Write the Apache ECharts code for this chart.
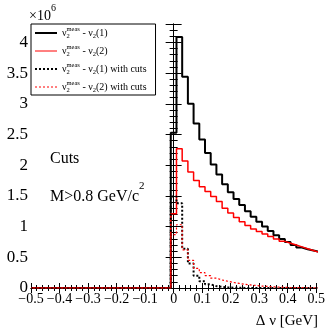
<!DOCTYPE html>
<html>
<head>
<meta charset="utf-8">
<script src="https://cdn.jsdelivr.net/npm/echarts@6/dist/echarts.min.js"></script>
<style>
  html, body { margin: 0; padding: 0; background: #fff; }
  #chart { width: 328px; height: 332px; }
</style>
</head>
<body>
<div id="chart"></div>
<script>
// Bin edges in Δν [GeV]: 0.02 GeV wide bins centred on multiples of 0.02
const binEdges = [-0.01, 0.01, 0.03, 0.05, 0.07, 0.09, 0.11, 0.13, 0.15, 0.17, 0.19,
  0.21, 0.23, 0.25, 0.27, 0.29, 0.31, 0.33, 0.35, 0.37, 0.39, 0.41, 0.43, 0.45,
  0.47, 0.49, 0.51];

// Entries per bin, in units of 10^6
const nuMeasMinusNu1 = [2.53, 4.09, 3.44, 3.00, 2.68, 2.42, 2.20, 2.01, 1.85, 1.69,
  1.56, 1.45, 1.35, 1.25, 1.16, 1.08, 1.00, 0.93, 0.86, 0.80, 0.75, 0.70, 0.66,
  0.63, 0.61, 0.59];
const nuMeasMinusNu2 = [1.21, 2.27, 2.07, 1.89, 1.75, 1.65, 1.57, 1.49, 1.41, 1.30,
  1.22, 1.15, 1.08, 1.02, 0.96, 0.92, 0.88, 0.84, 0.80, 0.76, 0.73, 0.70, 0.67,
  0.64, 0.61, 0.58];
const nuMeasMinusNu1Cuts = [1.49, 1.38, 0.64, 0.40, 0.20, 0.11, 0.06, 0.03, 0.02,
  0.01, 0.006, 0.003, 0.002, 0.001, 0, 0, 0, 0, 0, 0, 0, 0, 0, 0, 0, 0];
const nuMeasMinusNu2Cuts = [0.87, 1.03, 0.62, 0.45, 0.32, 0.25, 0.20, 0.16, 0.13,
  0.11, 0.09, 0.075, 0.06, 0.05, 0.04, 0.032, 0.025, 0.02, 0.015, 0.01, 0.008,
  0.006, 0.005, 0.004, 0.003, 0.002];

const legendLabels = {
  nu1: '{n|ν}{sb|2}{sp|meas}{n| - ν}{sb2|2}{n|(1)}',
  nu2: '{n|ν}{sb|2}{sp|meas}{n| - ν}{sb2|2}{n|(2)}',
  nu1cuts: '{n|ν}{sb|2}{sp|meas}{n| - ν}{sb2|2}{n|(1) with cuts}',
  nu2cuts: '{n|ν}{sb|2}{sp|meas}{n| - ν}{sb2|2}{n|(2) with cuts}'
};

const X_MIN = -0.5, X_MAX = 0.5;
const SERIF = 'Liberation Serif';

// Histogram outline: zero up to the first edge, then one step per bin
function stepPoints(values) {
  const pts = [[X_MIN, 0]];
  values.forEach((v, i) => pts.push([binEdges[i], v]));
  pts.push([binEdges[values.length], values[values.length - 1]]);
  return pts;
}

function mkSeries(name, values, color, width, type) {
  return {
    name: name,
    type: 'line',
    step: 'end',
    symbol: 'none',
    showSymbol: false,
    animation: false,
    data: stepPoints(values),
    lineStyle: { color: color, width: width, type: type },
    itemStyle: { color: color }
  };
}

const chart = echarts.init(document.getElementById('chart'), null, { renderer: 'canvas' });

const axisCommon = {
  axisLine: { show: true, lineStyle: { color: '#000', width: 1 } },
  splitLine: { show: false }
};

const option = {
  backgroundColor: '#fff',
  animation: false,
  grid: { left: 31, right: 11, top: 24, bottom: 44 },
  xAxis: [
    Object.assign({
      type: 'value', min: X_MIN, max: X_MAX, interval: 0.1, position: 'bottom',
      axisTick: { show: true, inside: true, length: 5, lineStyle: { color: '#000' } },
      minorTick: { show: true, splitNumber: 5, length: 3, lineStyle: { color: '#000' } },
      axisLabel: {
        color: '#000', fontFamily: SERIF, fontSize: 14, margin: 4,
        formatter: v => {
          const r = Math.round(v * 10) / 10;
          return (r < 0 ? '\u2212' : '') + String(Math.abs(r));
        }
      }
    }, axisCommon),
    Object.assign({
      type: 'value', min: X_MIN, max: X_MAX, interval: 0.1, position: 'top',
      axisTick: { show: true, inside: true, length: 5, lineStyle: { color: '#000' } },
      minorTick: { show: true, splitNumber: 5, length: 3, lineStyle: { color: '#000' } },
      axisLabel: { show: false }
    }, axisCommon)
  ],
  yAxis: [
    Object.assign({
      type: 'value', min: 0, max: 4.3, interval: 0.5, position: 'left',
      axisTick: { show: true, inside: true, length: 8, lineStyle: { color: '#000' } },
      minorTick: { show: true, splitNumber: 5, length: 4, lineStyle: { color: '#000' } },
      axisLabel: {
        color: '#000', fontFamily: SERIF, fontSize: 17, margin: 3,
        formatter: v => (Math.abs(v * 2 - Math.round(v * 2)) < 1e-6 ? String(Math.round(v * 2) / 2) : '')
      }
    }, axisCommon),
    Object.assign({
      type: 'value', min: 0, max: 4.3, interval: 0.5, position: 'right',
      axisTick: { show: true, inside: true, length: 8, lineStyle: { color: '#000' } },
      minorTick: { show: true, splitNumber: 5, length: 4, lineStyle: { color: '#000' } },
      axisLabel: { show: false }
    }, axisCommon)
  ],
  legend: {
    orient: 'vertical',
    left: 31, top: 24,
    padding: [2, 9, 1, 3],
    itemGap: 4,
    itemWidth: 22,
    itemHeight: 10,
    borderColor: '#000',
    borderWidth: 1,
    borderRadius: 0,
    backgroundColor: '#fff',
    itemStyle: { opacity: 0 },
    data: [
      { name: 'nu1', lineStyle: { width: 2 }, itemStyle: { opacity: 0 } },
      { name: 'nu2', lineStyle: { width: 1 }, itemStyle: { opacity: 0 } },
      { name: 'nu1cuts', lineStyle: { width: 2 }, itemStyle: { opacity: 0 } },
      { name: 'nu2cuts', lineStyle: { width: 1 }, itemStyle: { opacity: 0 } }
    ],
    formatter: name => legendLabels[name],
    textStyle: {
      color: '#000', fontFamily: SERIF, fontSize: 10,
      rich: {
        n: { fontFamily: SERIF, fontSize: 10, lineHeight: 14, color: '#000' },
        sb: { fontFamily: SERIF, fontSize: 6.5, lineHeight: 7, width: 0, verticalAlign: 'bottom', color: '#000' },
        sb2: { fontFamily: SERIF, fontSize: 6.5, lineHeight: 7, verticalAlign: 'bottom', color: '#000' },
        sp: { fontFamily: SERIF, fontSize: 6.5, lineHeight: 7, verticalAlign: 'top', color: '#000' }
      }
    },
    selectedMode: false
  },
  graphic: [
    {
      type: 'text', left: 29, top: 3,
      style: {
        text: '{a|×10}{b|6}',
        rich: {
          a: { fontFamily: SERIF, fontSize: 14, lineHeight: 20, verticalAlign: 'bottom', fill: '#000' },
          b: { fontFamily: SERIF, fontSize: 10, lineHeight: 12, verticalAlign: 'top', fill: '#000' }
        }
      }
    },
    {
      type: 'text', left: 50, top: 151,
      style: { text: 'Cuts', font: '16px "Liberation Serif"', fill: '#000' }
    },
    {
      type: 'text', left: 50, top: 181,
      style: {
        text: '{a|M>0.8 GeV/c}{b|2}',
        rich: {
          a: { fontFamily: SERIF, fontSize: 16, lineHeight: 24, verticalAlign: 'bottom', fill: '#000' },
          b: { fontFamily: SERIF, fontSize: 11, lineHeight: 15, verticalAlign: 'top', fill: '#000' }
        }
      }
    },
    {
      type: 'text', right: 10, top: 314,
      style: { text: 'Δ ν [GeV]', font: '15px "Liberation Serif"', fill: '#000' }
    }
  ],
  series: [
    mkSeries('nu1', nuMeasMinusNu1, '#000', 2, 'solid'),
    mkSeries('nu2', nuMeasMinusNu2, '#ff0000', 1.5, 'solid'),
    mkSeries('nu1cuts', nuMeasMinusNu1Cuts, '#000', 2, [2, 2]),
    mkSeries('nu2cuts', nuMeasMinusNu2Cuts, '#ff0000', 1.2, [2, 2])
  ]
};

chart.setOption(option);
</script>
</body>
</html>
